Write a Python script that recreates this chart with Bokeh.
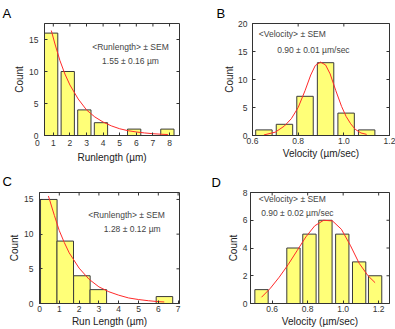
import math
from bokeh.plotting import figure
from bokeh.models import Range1d, Label, FixedTicker, ColumnDataSource, PrintfTickFormatter
from bokeh.layouts import row, column
from bokeh.embed import file_html
from bokeh.resources import INLINE

# ---------------- data ----------------
# Panel A: run length histogram
a_centers = [0.87, 1.87, 2.87, 3.87, 4.87, 5.87, 6.87, 7.87]
a_counts = [16, 10, 4, 2, 0, 1, 0, 1]
a_fit_x = [0.88, 1.1, 1.4, 1.7, 2.0, 2.5, 3.0, 3.5, 4.0, 4.5, 5.0, 5.5, 6.0, 6.5, 7.0, 7.5, 7.9]
a_fit_y = [16.4, 14.3, 11.7, 9.6, 7.9, 5.7, 4.0, 2.9, 2.1, 1.5, 1.05, 0.75, 0.55, 0.4, 0.28, 0.2, 0.15]
a_xticks = [1, 2, 3, 4, 5, 6, 7, 8]
a_yticks = [0, 5, 10, 15]

# Panel B: velocity histogram
b_centers = [0.65, 0.74, 0.83, 0.92, 1.01, 1.10]
b_counts = [1, 2, 7, 13, 4, 1]
b_fit_x = [0.65, 0.70, 0.74, 0.77, 0.80, 0.83, 0.855, 0.875, 0.898, 0.92, 0.94, 0.965, 0.99, 1.01, 1.03, 1.05, 1.075, 1.10]
b_fit_y = [0.1, 0.6, 1.7, 3.0, 5.0, 8.0, 10.8, 12.5, 13.1, 12.6, 11.0, 8.0, 5.2, 3.4, 2.1, 1.1, 0.45, 0.2]
b_xticks = [0.6, 0.8, 1.0, 1.2]
b_yticks = [0, 5, 10, 15, 20]

# Panel C: run length histogram
c_centers = [0.47, 1.30, 2.14, 2.97, 3.81, 4.64, 5.48, 6.31]
c_counts = [15, 9, 4, 2, 0, 0, 0, 1]
c_fit_x = [0.45, 0.75, 1.0, 1.25, 1.5, 2.0, 2.5, 3.0, 3.5, 4.0, 4.5, 5.0, 5.5, 6.0, 6.3]
c_fit_y = [15.5, 12.7, 10.5, 8.8, 7.3, 5.1, 3.5, 2.4, 1.7, 1.2, 0.8, 0.57, 0.4, 0.27, 0.22]
c_xticks = [0, 1, 2, 3, 4, 5, 6, 7]
c_yticks = [0, 5, 10, 15]

# Panel D: velocity histogram
d_centers = [0.54, 0.63, 0.72, 0.81, 0.90, 0.995, 1.09, 1.18]
d_counts = [1, 0, 4, 5, 6, 5, 3, 2]
d_fit_x = [0.54, 0.59, 0.64, 0.69, 0.74, 0.79, 0.84, 0.89, 0.94, 0.99, 1.04, 1.09, 1.14, 1.18]
d_fit_y = [0.45, 1.1, 1.9, 2.8, 3.8, 4.8, 5.6, 6.0, 5.95, 5.35, 4.2, 2.9, 2.0, 1.5]
d_xticks = [0.6, 0.8, 1.0, 1.2]
d_yticks = [0, 2, 4, 6, 8]

FONT = "Liberation Sans"
BAR_FILL = "#FFFF78"
BAR_LINE = "#3A3A3A"
FIT = "#FF2A2A"
AX = "#333333"

offx = {"A": 0, "B": 197, "C": 0, "D": 197}
offy = {"A": 0, "B": 0, "C": 165, "D": 165}


def make_panel(W, H, frame, xr, yr, centers, counts, width, fx, fy,
               xticks, yticks, xlabel, ylab_standoff, ytick_standoff,
               letter, letter_offset, letter_standoff, texts):
    fl, ft, fw, fh = frame
    left = fl - offx[letter]
    top = ft - offy[letter]
    right = W - left - fw
    bottom = H - top - fh
    p = figure(width=W, height=H, x_range=Range1d(*xr), y_range=Range1d(*yr),
               output_backend="svg", toolbar_location=None,
               min_border_left=left, min_border_right=right,
               min_border_top=top, min_border_bottom=bottom)
    p.xgrid.visible = False
    p.ygrid.visible = False
    p.outline_line_color = AX
    p.outline_line_width = 1
    p.background_fill_color = "white"
    p.border_fill_color = "white"

    # panel letter as the figure title
    p.title.text = letter
    p.title.align = "left"
    p.title.offset = letter_offset
    p.title.standoff = letter_standoff
    p.title.text_font = FONT
    p.title.text_font_size = "13px"
    p.title.text_font_style = "normal"
    p.title.text_color = "black"

    xs = [c for c, n in zip(centers, counts) if n > 0]
    ns = [n for n in counts if n > 0]
    src = ColumnDataSource(dict(x=xs, top=ns))
    p.vbar(x="x", top="top", bottom=0, width=width, source=src,
           fill_color=BAR_FILL, line_color=BAR_LINE, line_width=1)
    p.line(fx, fy, line_color=FIT, line_width=1)

    for ax, ticks in ((p.xaxis[0], xticks), (p.yaxis[0], yticks)):
        ax.ticker = FixedTicker(ticks=ticks)
        ax.major_tick_in = 3
        ax.major_tick_out = 0
        ax.minor_tick_in = 0
        ax.minor_tick_out = 0
        ax.axis_line_color = AX
        ax.major_tick_line_color = AX
        ax.major_label_text_font = FONT
        ax.major_label_text_font_size = "8.5px"
        ax.major_label_text_color = "#333333"
        ax.axis_label_text_font = FONT
        ax.axis_label_text_font_size = "10px"
        ax.axis_label_text_font_style = "normal"
        ax.axis_label_text_color = "#222222"
    p.xaxis.axis_label = xlabel
    p.yaxis.axis_label = "Count"
    p.xaxis.major_label_standoff = 2
    p.xaxis.axis_label_standoff = 1
    p.yaxis.major_label_standoff = ytick_standoff
    p.yaxis.axis_label_standoff = ylab_standoff

    # inward ticks on the top and right edges of the box (clipped to the frame)
    p.scatter(xticks, [yr[1]] * len(xticks), marker="dash", size=6,
              angle=math.pi / 2, line_color=AX, line_width=1)
    p.scatter([xr[1]] * len(yticks), yticks, marker="dash", size=6,
              angle=0, line_color=AX, line_width=1)

    def to_data(px, py):
        x = xr[0] + (px - fl) / fw * (xr[1] - xr[0])
        y = yr[0] + (ft + fh - py) / fh * (yr[1] - yr[0])
        return x, y

    for (txt, px, py, align) in texts:
        tx, ty = to_data(px, py)
        p.add_layout(Label(x=tx, y=ty, text=txt, text_font=FONT,
                           text_font_size="8.5px", text_align=align,
                           text_baseline="middle", text_color="#444444"))
    return p


pA = make_panel(197, 165, (44, 21, 135, 116), (0.47, 8.6), (0, 17.5),
                a_centers, a_counts, 0.8, a_fit_x, a_fit_y,
                a_xticks, a_yticks, "Runlength (\u00b5m)", 1, 6,
                "A", -42, 5,
                [("<Runlength> \u00b1 SEM", 130, 45, "center"),
                 ("1.55 \u00b1 0.16 \u00b5m", 130, 60, "center")])
# The reference prints an x-axis "0" just left of the box; show it on the
# left edge tick, padded with figure spaces so that the digit sits left of it.
edge = 0.4701
pA.xaxis.ticker = FixedTicker(ticks=[edge] + a_xticks)
pA.xaxis.major_label_overrides = {edge: "0\u2007\u2007\u2007"}

pB = make_panel(198, 165, (252, 23, 137, 114), (0.6, 1.2), (0, 20),
                b_centers, b_counts, 0.072, b_fit_x, b_fit_y,
                b_xticks, b_yticks, "Velocity (\u00b5m/sec)", 0, 5,
                "B", -36, 5,
                [("<Velocity> \u00b1 SEM", 258.3, 33.3, "left"),
                 ("0.90 \u00b1 0.01 \u00b5m/sec", 276.7, 50, "left")])
pB.xaxis.formatter = PrintfTickFormatter(format="%.1f")

pC = make_panel(197, 164, (39, 191, 140, 114), (0, 7.07), (0, 16),
                c_centers, c_counts, 0.835, c_fit_x, c_fit_y,
                c_xticks, c_yticks, "Run Length (\u00b5m)", 1, 6,
                "C", -37, 8,
                [("<Runlength> \u00b1 SEM", 126, 214.3, "center"),
                 ("1.28 \u00b1 0.12 \u00b5m", 131.7, 228.3, "center")])

pD = make_panel(198, 164, (250, 192, 139, 114), (0.478, 1.261), (0, 8),
                d_centers, d_counts, 0.075, d_fit_x, d_fit_y,
                d_xticks, d_yticks, "Velocity (\u00b5m/sec)", 1, 3,
                "D", -39, 6,
                [("<Velocity> \u00b1 SEM", 258.3, 198.3, "left"),
                 ("0.90 \u00b1 0.02 \u00b5m/sec", 260.7, 212.7, "left")])
pD.xaxis.formatter = PrintfTickFormatter(format="%.1f")

layout = column(row(pA, pB), row(pC, pD))
open("out.html", "w").write(file_html(layout, INLINE))
